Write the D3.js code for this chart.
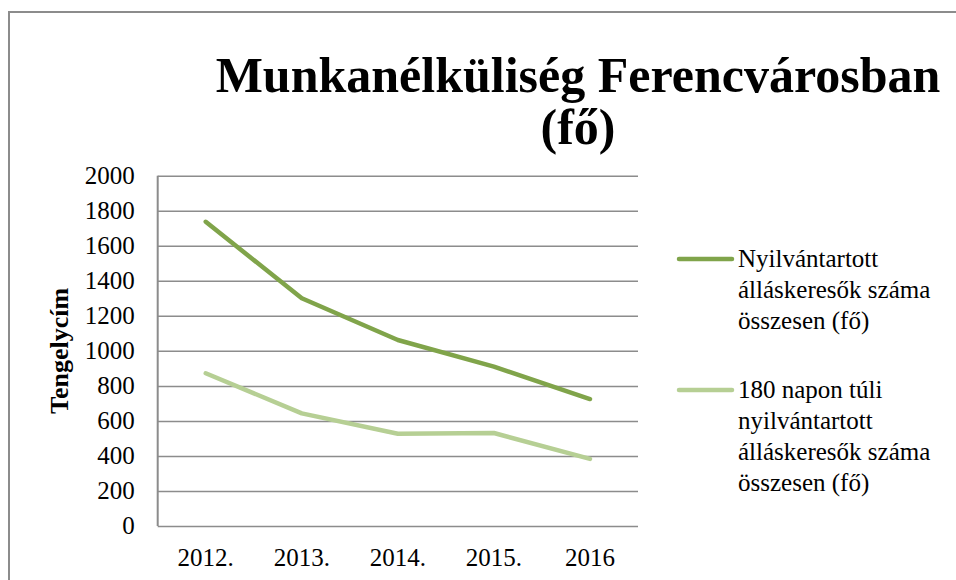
<!DOCTYPE html>
<html>
<head>
<meta charset="utf-8">
<script src="https://cdn.jsdelivr.net/npm/d3@7"></script>
<style>
body { margin:0; background:#fff; }
text { font-family:"Liberation Serif","Tinos","DejaVu Serif Condensed","DejaVu Serif",serif; fill:#000; }
.grid line { stroke:#8c8c8c; stroke-width:1.5; }
.grid path { display:none; }
</style>
</head>
<body>
<svg id="graph"></svg>
<script>
var years = ["2012.", "2013.", "2014.", "2015.", "2016"]
var osszes = [1737, 1300, 1062, 910, 725]
var tartos = [872, 643, 527, 531, 383]
var yTicks = [0, 200, 400, 600, 800, 1000, 1200, 1400, 1600, 1800, 2000]
var seriesNames = [
    ["Nyilvántartott", "álláskeresők száma", "összesen (fő)"],
    ["180 napon túli", "nyilvántartott", "álláskeresők száma", "összesen (fő)"]
]
var seriesColors = ["#80a44a", "#b6cf94"]
var titleLines = ["Munkanélküliség Ferencvárosban", "(fő)"]

var screen = {width:956, height:580}
var plot = {left:157.7, right:638, top:175.7, bottom:526}

var svg = d3.select("#graph")
    .attr("width", screen.width)
    .attr("height", screen.height)

// outer frame, cut off on the right and bottom like the original
svg.append("rect")
    .attr("x", 9).attr("y", 12)
    .attr("width", 980).attr("height", 620)
    .attr("fill", "none")
    .attr("stroke", "#8c8c8c")
    .attr("stroke-width", 2)

svg.selectAll(".title")
    .data(titleLines)
    .enter()
    .append("text")
    .attr("class", "title")
    .attr("x", 578)
    .attr("y", function(d, i) { return 92 + i * 52 })
    .attr("text-anchor", "middle")
    .style("font-size", "50px")
    .style("font-weight", "bold")
    .text(function(d) { return d })

var xscale = d3.scaleBand()
    .domain(years)
    .range([plot.left, plot.right])

var yscale = d3.scaleLinear()
    .domain([0, 2000])
    .range([plot.bottom, plot.top])

// horizontal gridlines
svg.append("g")
    .attr("class", "grid")
    .attr("transform", "translate(" + plot.left + ",0)")
    .call(d3.axisLeft(yscale).tickValues(yTicks).tickSize(-(plot.right - plot.left)).tickFormat(""))

// y axis line
svg.append("line")
    .attr("x1", plot.left).attr("x2", plot.left)
    .attr("y1", plot.top).attr("y2", plot.bottom)
    .attr("stroke", "#8c8c8c")
    .attr("stroke-width", 2)

svg.append("g")
    .selectAll("text")
    .data(yTicks)
    .enter()
    .append("text")
    .attr("x", plot.left - 23)
    .attr("y", function(d) { return yscale(d) + 8 })
    .attr("text-anchor", "end")
    .style("font-size", "25px")
    .text(function(d) { return d })

svg.append("g")
    .selectAll("text")
    .data(years)
    .enter()
    .append("text")
    .attr("x", function(d) { return xscale(d) + xscale.bandwidth() / 2 })
    .attr("y", 566)
    .attr("text-anchor", "middle")
    .style("font-size", "25px")
    .text(function(d) { return d })

svg.append("text")
    .attr("transform", "translate(68," + (plot.top + plot.bottom) / 2 + ") rotate(-90)")
    .attr("text-anchor", "middle")
    .style("font-size", "26px")
    .style("font-weight", "bold")
    .text("Tengelycím")

var line = d3.line()
    .x(function(d, i) { return xscale(years[i]) + xscale.bandwidth() / 2 })
    .y(function(d) { return yscale(d) })

svg.selectAll(".series")
    .data([osszes, tartos])
    .enter()
    .append("path")
    .attr("class", "series")
    .attr("d", line)
    .attr("fill", "none")
    .attr("stroke", function(d, i) { return seriesColors[i] })
    .attr("stroke-width", 4.5)
    .attr("stroke-linecap", "round")
    .attr("stroke-linejoin", "round")

// legend
var legendTop = [267, 398]
var legend = svg.selectAll(".legend")
    .data(seriesNames)
    .enter()
    .append("g")
    .attr("class", "legend")

legend.append("line")
    .attr("x1", 679).attr("x2", 732)
    .attr("y1", function(d, i) { return legendTop[i] - 8 })
    .attr("y2", function(d, i) { return legendTop[i] - 8 })
    .attr("stroke", function(d, i) { return seriesColors[i] })
    .attr("stroke-width", 4.5)
    .attr("stroke-linecap", "round")

legend.each(function(names, i) {
    d3.select(this).selectAll("text")
        .data(names)
        .enter()
        .append("text")
        .attr("x", 738)
        .attr("y", function(d, j) { return legendTop[i] + j * 31 })
        .style("font-size", "25px")
        .text(function(d) { return d })
})
</script>
</body>
</html>
